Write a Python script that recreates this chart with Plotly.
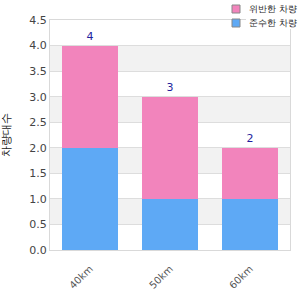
import plotly.graph_objects as go

categories = ["40km", "50km", "60km"]
series_blue = [2, 1, 1]
series_pink = [2, 2, 1]
totals = [4, 3, 2]
name_pink = "위반한 차량"
name_blue = "준수한 차량"
y_title = "차량대수"
y_ticks = [0, 0.5, 1, 1.5, 2, 2.5, 3, 3.5, 4, 4.5]

FONT = "DejaVu Sans"
PINK = "#F284BC"
BLUE = "#5EA9F5"

fig = go.Figure()
fig.add_trace(go.Bar(x=categories, y=series_blue, name=name_blue,
                     marker=dict(color=BLUE, line=dict(width=0))))
fig.add_trace(go.Bar(x=categories, y=series_pink, name=name_pink,
                     marker=dict(color=PINK, line=dict(width=0)),
                     text=[str(t) for t in totals], textposition="outside",
                     textfont=dict(color="#1F1F9E", size=11, family=FONT),
                     cliponaxis=False))

# alternating bands
for lo in [0.5, 1.5, 2.5, 3.5]:
    fig.add_shape(type="rect", xref="paper", yref="y", x0=0, x1=1, y0=lo, y1=lo + 0.5,
                  fillcolor="#F2F2F2", line=dict(width=0), layer="below")

# manual legend (pixel placement via paper coords)
W, H = 300, 300
L, R, T, B = 50, 10, 20, 50
pw, ph = W - L - R, H - T - B
def px(x):
    return (x - L) / pw
def py(y):
    return (H - B - y) / ph

legend_items = [(name_pink, PINK, 9), (name_blue, BLUE, 23)]
for name, col, yc in legend_items:
    fig.add_shape(type="rect", xref="paper", yref="paper",
                  x0=px(232), x1=px(240), y0=py(yc + 4), y1=py(yc - 4),
                  fillcolor=col, line=dict(color="#888888", width=1), layer="above")
    fig.add_shape(type="rect", xref="paper", yref="paper",
                  x0=px(246), x1=px(299), y0=py(yc + 6), y1=py(yc - 6),
                  fillcolor="white", line=dict(width=0), layer="above")
    fig.add_annotation(xref="paper", yref="paper", x=px(248), y=py(yc),
                       text=name, showarrow=False, xanchor="left", yanchor="middle",
                       borderpad=0,
                       font=dict(size=9, color="#222222", family=FONT))

fig.update_layout(
    width=W, height=H,
    margin=dict(l=L, r=R, t=T, b=B, autoexpand=False),
    barmode="stack", bargap=0.29,
    plot_bgcolor="white", paper_bgcolor="white",
    font=dict(family=FONT, size=11, color="#444444"),
    showlegend=False,
    xaxis=dict(tickangle=-45, showline=True, linecolor="#D9D9D9", mirror=True,
               tickfont=dict(size=10, color="#555555"), ticks="", ticklabelstandoff=8),
    yaxis=dict(range=[0, 4.5], tickvals=y_ticks, tickformat=".1f",
               showgrid=True, gridcolor="#DDDDDD", showline=True, linecolor="#D9D9D9",
               mirror=True, zeroline=False, ticks="",
               title=dict(text=y_title, font=dict(size=11, color="#222222"), standoff=16),
               tickfont=dict(size=11, color="#444444")),
)

fig.write_html("out.html")
